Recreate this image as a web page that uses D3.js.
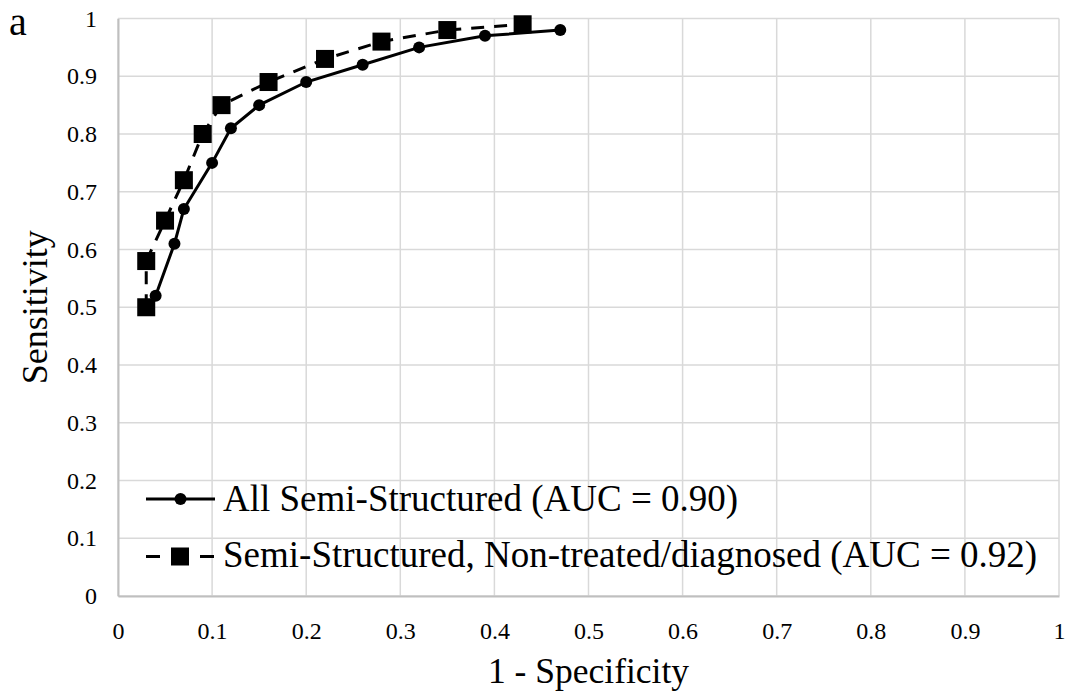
<!DOCTYPE html>
<html>
<head>
<meta charset="utf-8">
<script src="https://cdn.jsdelivr.net/npm/d3@7"></script>
<style>
    body { margin: 0; background: #fff; }
    svg text { font-family: "Liberation Serif", "Times New Roman", serif !important; fill: #000; }
</style>
</head>
<body>
<div id="c1"></div>
<script>
// ROC data
const allX = [0.03, 0.04, 0.06, 0.07, 0.10, 0.12, 0.15, 0.20, 0.26, 0.32, 0.39, 0.47]
const allY = [0.50, 0.52, 0.61, 0.67, 0.75, 0.81, 0.85, 0.89, 0.92, 0.95, 0.97, 0.98]
const nonX = [0.03, 0.03, 0.05, 0.07, 0.09, 0.11, 0.16, 0.22, 0.28, 0.35, 0.43]
const nonY = [0.50, 0.58, 0.65, 0.72, 0.80, 0.85, 0.89, 0.93, 0.96, 0.98, 0.99]
const seriesNames = ["All Semi-Structured (AUC = 0.90)", "Semi-Structured, Non-treated/diagnosed (AUC = 0.92)"]
const ticks = [0, 0.1, 0.2, 0.3, 0.4, 0.5, 0.6, 0.7, 0.8, 0.9, 1]

function c1() {
    const margin = {l: 118, r: 10, t: 18.5, b: 99}
    const overall_width = 1069
    const overall_height = 695
    const width = overall_width - margin.l - margin.r
    const height = overall_height - margin.t - margin.b
    const serif = "Liberation Serif, Times New Roman, serif"

    let outerSvg = d3.select("#c1")
        .append("svg")
        .attr("width", overall_width)
        .attr("height", overall_height);
    outerSvg.append("rect")
        .attr("width", "100%")
        .attr("height", "100%")
        .attr("fill", "#fff");
    let svg = outerSvg.append("g")
        .attr("transform", `translate(${margin.l}, ${margin.t})`);

    let x = d3.scaleLinear().domain([0, 1]).range([0, width]);
    let y = d3.scaleLinear().domain([0, 1]).range([height, 0]);

    //grid
    svg.append("g")
        .selectAll("line.v")
        .data(ticks)
        .enter()
        .append("line")
        .attr("x1", d => x(d)).attr("x2", d => x(d))
        .attr("y1", 0).attr("y2", height)
        .attr("stroke", "#d9d9d9")
        .attr("stroke-width", 1.5);
    svg.append("g")
        .selectAll("line.h")
        .data(ticks)
        .enter()
        .append("line")
        .attr("x1", 0).attr("x2", width)
        .attr("y1", d => y(d)).attr("y2", d => y(d))
        .attr("stroke", "#d9d9d9")
        .attr("stroke-width", 1.5);

    //axes, no tick marks, just labels
    let axisX = d3.axisBottom(x).tickValues(ticks).tickSize(0).tickPadding(26).tickFormat(d3.format("~g"));
    let axisY = d3.axisLeft(y).tickValues(ticks).tickSize(0).tickPadding(21).tickFormat(d3.format("~g"));
    let gx = svg.append("g")
        .attr("transform", `translate(0,${height})`)
        .call(axisX);
    let gy = svg.append("g").call(axisY);
    [gx, gy].forEach(g => {
        g.attr("font-family", serif).attr("font-size", 24);
        g.select(".domain").attr("stroke", "#bfbfbf").attr("stroke-width", 2);
        g.selectAll("text")
            .attr("font-family", serif)
            .attr("font-size", 24)
            .attr("fill", "#000");
    });

    //axis titles
    svg.append("text")
        .attr("x", width / 2)
        .attr("y", height + 87)
        .attr("text-anchor", "middle")
        .style("font-size", "35.5px")
        .text("1 - Specificity");
    svg.append("text")
        .attr("transform", "rotate(-90)")
        .attr("x", -(y(0.5)))
        .attr("y", 47 - margin.l)
        .attr("text-anchor", "middle")
        .style("font-size", "36px")
        .text("Sensitivity");
    outerSvg.append("text")
        .attr("x", 9)
        .attr("y", 35)
        .style("font-size", "40px")
        .text("a");

    let line = d3.line().x(d => x(d[0])).y(d => y(d[1]));
    let allPts = allX.map((v, i) => [v, allY[i]]);
    let nonPts = nonX.map((v, i) => [v, nonY[i]]);

    //series 1: solid + circles
    svg.append("path")
        .datum(allPts)
        .attr("d", line)
        .attr("fill", "none")
        .attr("stroke", "#000")
        .attr("stroke-width", 3);
    svg.selectAll("circle.all")
        .data(allPts)
        .enter()
        .append("circle")
        .attr("cx", d => x(d[0]))
        .attr("cy", d => y(d[1]))
        .attr("r", 6)
        .attr("fill", "#000");

    //series 2: dashed + squares
    const sq = 18
    svg.append("path")
        .datum(nonPts)
        .attr("d", line)
        .attr("fill", "none")
        .attr("stroke", "#000")
        .attr("stroke-width", 3)
        .attr("stroke-dasharray", "13,10");
    svg.selectAll("rect.non")
        .data(nonPts)
        .enter()
        .append("rect")
        .attr("x", d => x(d[0]) - sq / 2)
        .attr("y", d => y(d[1]) - sq / 2)
        .attr("width", sq)
        .attr("height", sq)
        .attr("fill", "#000");

    //legend
    const legendLocation = [146 - margin.l, 499 - margin.t]
    let legend = svg.append("g")
        .attr("transform", `translate(${legendLocation[0]}, ${legendLocation[1]})`);
    legend.append("line")
        .attr("x1", 0).attr("x2", 69).attr("y1", 0).attr("y2", 0)
        .attr("stroke", "#000").attr("stroke-width", 3);
    legend.append("circle")
        .attr("cx", 34.5).attr("cy", 0).attr("r", 6).attr("fill", "#000");
    legend.append("line")
        .attr("x1", 0).attr("x2", 68).attr("y1", 57.5).attr("y2", 57.5)
        .attr("stroke", "#000").attr("stroke-width", 3)
        .attr("stroke-dasharray", "14,40");
    legend.append("rect")
        .attr("x", 34 - sq / 2).attr("y", 57.5 - sq / 2)
        .attr("width", sq).attr("height", sq).attr("fill", "#000");
    legend.selectAll("text.leg")
        .data(seriesNames)
        .enter()
        .append("text")
        .attr("x", 77)
        .attr("y", (d, i) => i * 56 + 12)
        .style("font-size", "37px")
        .text(d => d);
}

c1();
</script>
</body>
</html>
